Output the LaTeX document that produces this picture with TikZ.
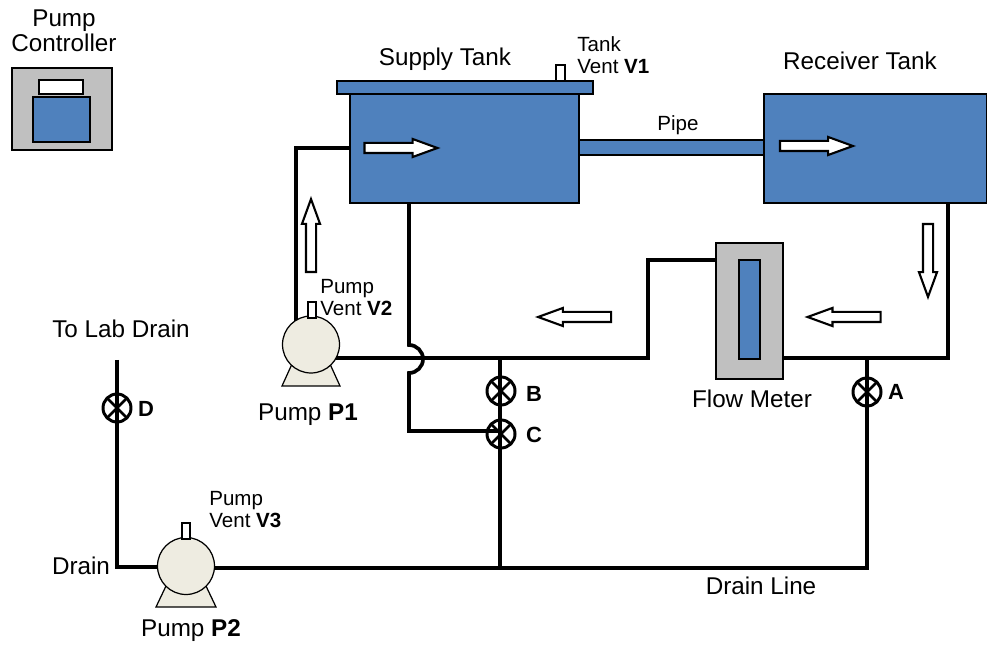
\documentclass[tikz,border=0pt]{standalone}
\usepackage{fontspec}
\usepackage{xcolor}
\usetikzlibrary{shapes.arrows}
\setmainfont{Liberation Sans}
\definecolor{tankblue}{HTML}{4F81BD}
\definecolor{metergray}{HTML}{C0C0C0}
\definecolor{pumpcream}{HTML}{EEECE1}
\tikzset{
	box/.style={draw, inner sep=0pt, outer sep=0pt, line width=1.1pt},
	bluebox/.style={box, fill=tankblue},
	graybox/.style={box, fill=metergray, line width=0.9pt},
	ventbox/.style={box, fill=white, minimum width=0.17cm, minimum height=0.32cm, line width=0.9pt},
	pipe/.style={line width=2.1pt, line join=miter},
	pumpbody/.style={draw, fill=pumpcream, line width=0.7pt},
	pumphead/.style={pumpbody, circle, inner sep=0pt, outer sep=0pt, minimum size=1.14cm},
	valve/.style={circle, draw, line width=1.7pt, inner sep=0pt, outer sep=0pt, minimum size=0.56cm,
		path picture={
			\draw [line width=1.5pt] (path picture bounding box.north west) -- (path picture bounding box.south east);
			\draw [line width=1.5pt] (path picture bounding box.north east) -- (path picture bounding box.south west);
		}},
	flowarrow/.style={single arrow, draw, fill=white, line width=1.2pt, inner sep=0.08cm, outer sep=0pt,
		minimum height=1.46cm, single arrow head extend=0.08cm, single arrow tip angle=40},
	biglabel/.style={font=\fontsize{13.8}{14.2}\selectfont, align=center, inner sep=0pt},
	smalllabel/.style={font=\fontsize{11.7}{12.5}\selectfont, align=left, inner sep=0pt, anchor=west},
}
\begin{document}
\begin{tikzpicture}[x=0.02cm, y=-0.02cm]
		\useasboundingbox (0, 0) rectangle (987, 648);
		% pipe corners
		\coordinate (inletcorner) at (296, 148);
		\coordinate (inletend) at (351, 148);
		\coordinate (p1up) at (296, 330);
		\coordinate (p1out) at (330, 358);
		\coordinate (hoptop) at (409, 345);
		\coordinate (hopbottom) at (409, 373);
		\coordinate (returntop) at (409, 203);
		\coordinate (returncorner) at (409, 431);
		\coordinate (teeb) at (500, 358);
		\coordinate (meterlow) at (648, 358);
		\coordinate (meterhigh) at (648, 260);
		\coordinate (meterin) at (716, 260);
		\coordinate (meterout) at (783, 358);
		\coordinate (teea) at (867, 358);
		\coordinate (tankcorner) at (948, 358);
		\coordinate (tankdrop) at (948, 203);
		\coordinate (draintop) at (117, 360);
		\coordinate (draincorner) at (117, 567);
		\coordinate (p2in) at (170, 567);
		\coordinate (p2out) at (205, 568);
		\coordinate (teec) at (500, 568);
		\coordinate (linecorner) at (867, 568);
		% valves and pumps go on top of these later
		\draw [pipe] (inletend) to (inletcorner) to (p1up);
		\draw [pipe] (p1out) to (teeb) to (meterlow) to (meterhigh) to (meterin);
		\draw [pipe] (returntop) to (hoptop) arc (-90:90:14) to (returncorner) to (502, 431);
		\draw [pipe] (teeb) to (teec);
		\draw [pipe] (tankdrop) to (tankcorner) to (meterout);
		\draw [pipe] (teea) to (linecorner) to (p2out);
		\draw [pipe] (draintop) to (draincorner) to (p2in);
		% tanks
		\node [box, fill=tankblue, line width=0.7pt, minimum width=3.72cm, minimum height=0.30cm] (pipebar) at (672, 147.5) {};
		\node [bluebox, minimum width=4.58cm, minimum height=2.18cm] (supply) at (464.5, 148.5) {};
		\node [bluebox, minimum width=5.12cm, minimum height=0.26cm] (lid) at (465, 87.5) {};
		\node [ventbox] (v1) at (560.5, 73) {};
		\node [bluebox, minimum width=4.46cm, minimum height=2.18cm] (receiver) at (875.5, 148.5) {};
		% flow meter
		\node [graybox, minimum width=1.34cm, minimum height=2.72cm] (meter) at (749.5, 311) {};
		\node [bluebox, line width=0.8pt, minimum width=0.42cm, minimum height=1.98cm] (metertube) at (749.5, 309.5) {};
		% controller
		\node [graybox, minimum width=2cm, minimum height=1.64cm] (controller) at (62, 109) {};
		\node [box, fill=white, minimum width=0.88cm, minimum height=0.28cm] (display) at (61, 87) {};
		\node [bluebox, minimum width=1.14cm, minimum height=0.90cm] (panel) at (61.5, 119.5) {};
		% pump P1
		\coordinate (p1a) at (292, 364);
		\coordinate (p1b) at (282, 386);
		\coordinate (p1c) at (340, 386);
		\coordinate (p1d) at (330, 364);
		\draw [pumpbody] (p1a) to (p1b) to (p1c) to (p1d) to cycle;
		\node [pumphead] (p1) at (311, 344.5) {};
		\node [ventbox] (v2) at (312, 310) {};
		% pump P2
		\coordinate (p2a) at (166, 586);
		\coordinate (p2b) at (156, 607);
		\coordinate (p2c) at (216, 607);
		\coordinate (p2d) at (206, 586);
		\draw [pumpbody] (p2a) to (p2b) to (p2c) to (p2d) to cycle;
		\node [pumphead] (p2) at (186, 566) {};
		\node [ventbox] (v3) at (186, 531) {};
		% valves
		\node [valve] (a) at (867, 392) {};
		\node [valve] (b) at (501, 391) {};
		\node [valve] (c) at (501, 434) {};
		\node [valve] (d) at (117, 408) {};
		% flow arrows
		\node [flowarrow] (arrowsupply) at (394, 148) {};
		\node [flowarrow] (arrowreceiver) at (809.5, 146) {};
		\node [flowarrow, rotate=90] (arrowup) at (311, 242.5) {};
		\node [flowarrow, rotate=-90] (arrowdown) at (928, 253.5) {};
		\node [flowarrow, rotate=180] (arrowmid) at (581.5, 317) {};
		\node [flowarrow, rotate=180] (arrowright) at (851, 317) {};
		% labels
		\node [biglabel] (controllertext) at (64, 31) {Pump\\Controller};
		\node [biglabel] (supplytext) at (445, 59) {Supply Tank};
		\node [biglabel] (receivertext) at (860, 61) {Receiver Tank};
		\node [biglabel] (metertext) at (752, 399) {Flow Meter};
		\node [biglabel] (p1text) at (308, 415) {Pump \textbf{P1}};
		\node [biglabel] (p2text) at (191, 631) {Pump \textbf{P2}};
		\node [biglabel] (drainlabtext) at (121, 329) {To Lab Drain};
		\node [biglabel] (draintext) at (81, 566) {Drain};
		\node [biglabel] (linetext) at (761, 586) {Drain Line};
		\node [biglabel, font=\fontsize{11.7}{12.5}\selectfont] (pipetext) at (678, 125) {Pipe};
		\node [smalllabel] (v1text) at (577, 55) {Tank\\Vent \textbf{V1}};
		\node [smalllabel] (v2text) at (320, 298) {Pump\\Vent \textbf{V2}};
		\node [smalllabel] (v3text) at (209, 510) {Pump\\Vent \textbf{V3}};
		\node [biglabel, font=\bfseries\fontsize{12.5}{14}\selectfont] (atext) at (896, 392) {A};
		\node [biglabel, font=\bfseries\fontsize{12.5}{14}\selectfont] (btext) at (534, 394) {B};
		\node [biglabel, font=\bfseries\fontsize{12.5}{14}\selectfont] (ctext) at (534, 435) {C};
		\node [biglabel, font=\bfseries\fontsize{12.5}{14}\selectfont] (dtext) at (146, 409) {D};
	\end{tikzpicture}
\end{document}
